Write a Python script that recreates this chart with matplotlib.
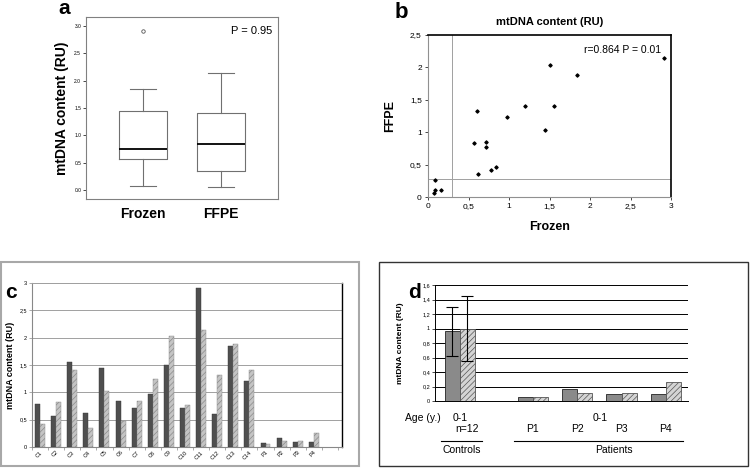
import numpy as np
import matplotlib
matplotlib.use('Agg')
import matplotlib.pyplot as plt
from matplotlib import cbook
from matplotlib.lines import Line2D
from matplotlib.patches import Rectangle

plt.rcParams['font.family'] = ['Liberation Sans', 'DejaVu Sans']
plt.rcParams['hatch.linewidth'] = 0.5

# data
samples = ['C1', 'C2', 'C3', 'C4', 'C5', 'C6', 'C7', 'C8', 'C9', 'C10', 'C11', 'C12', 'C13', 'C14',
           'P1', 'P2', 'P3', 'P4']
frozen = [0.78, 0.57, 1.55, 0.62, 1.44, 0.84, 0.71, 0.97, 1.50, 0.71, 2.91, 0.61, 1.84, 1.20,
          0.07, 0.16, 0.09, 0.09]
ffpe = [0.42, 0.83, 1.41, 0.35, 1.03, 0.47, 0.85, 1.24, 2.03, 0.77, 2.14, 1.32, 1.88, 1.41,
        0.06, 0.11, 0.11, 0.26]

groups_d = ['Controls', 'P1', 'P2', 'P3', 'P4']
frozen_d = [0.96, 0.06, 0.17, 0.10, 0.10]
ffpe_d = [1.00, 0.06, 0.11, 0.11, 0.26]
frozen_d_err = [0.34, 0, 0, 0, 0]
ffpe_d_err = [0.45, 0, 0, 0, 0]

W, H = 750, 468
fig = plt.figure(figsize=(W / 100, H / 100), dpi=100)


def ax_px(l, t, r, b):
    return fig.add_axes([l / W, 1 - b / H, (r - l) / W, (b - t) / H])


def ftxt(x, y, s, **kw):
    fig.text(x / W, 1 - y / H, s, **kw)


def comma(v, pos=None):
    return ('%g' % v).replace('.', ',')


# ---------- panel a : boxplot ----------
axa = ax_px(86, 17, 278, 199)
stats = cbook.boxplot_stats([frozen, ffpe], whis=1.5, labels=['Frozen', 'FFPE'])
for st, d in zip(stats, [frozen, ffpe]):
    s = np.sort(d)
    half = len(s) // 2
    st['q1'] = np.median(s[:half])
    st['q3'] = np.median(s[-half:])
axa.bxp(stats, positions=[1, 2], widths=0.62, capwidths=0.33,
        boxprops=dict(color='#707070', lw=0.8),
        whiskerprops=dict(color='#707070', lw=0.8),
        capprops=dict(color='#707070', lw=0.8),
        medianprops=dict(color='black', lw=1.3),
        flierprops=dict(marker='o', markersize=2.5, markerfacecolor='none',
                        markeredgecolor='#555555', markeredgewidth=0.6))
axa.set_xlim(0.27, 2.73)
axa.set_ylim(-0.16, 3.16)
axa.set_yticks(np.arange(0, 3.01, 0.5))
axa.set_yticklabels(['%.1f' % v for v in np.arange(0, 3.01, 0.5)])
axa.tick_params(axis='y', labelsize=3.5, length=2, width=0.5, pad=1.5)
axa.tick_params(axis='x', labelsize=10, length=0, pad=6)
for lab in axa.get_xticklabels():
    lab.set_fontweight('bold')
for sp in axa.spines.values():
    sp.set_color('#808080')
    sp.set_linewidth(0.8)
axa.set_ylabel('mtDNA content (RU)', fontsize=10, fontweight='bold', labelpad=4)
axa.text(0.97, 0.95, 'P = 0.95', transform=axa.transAxes, ha='right', va='top', fontsize=8)
ftxt(64, 9, 'a', fontsize=15, fontweight='bold', ha='center', va='center')

# ---------- panel b : scatter ----------
axb = ax_px(428, 35, 671, 197)
axb.scatter(frozen, ffpe, marker='D', s=2.5, color='black', zorder=3)
axb.axvline(0.3, color='#a0a0a0', lw=0.7)
axb.axhline(0.28, color='#a0a0a0', lw=0.7)
axb.set_xlim(0, 3)
axb.set_ylim(0, 2.5)
axb.set_xticks(np.arange(0, 3.01, 0.5))
axb.set_yticks(np.arange(0, 2.51, 0.5))
axb.xaxis.set_major_formatter(comma)
axb.yaxis.set_major_formatter(comma)
axb.tick_params(labelsize=6, length=2.5, width=0.5, pad=2)
axb.spines['left'].set_color('#909090')
axb.spines['bottom'].set_color('#909090')
axb.spines['top'].set_color('black')
axb.spines['right'].set_color('black')
axb.spines['top'].set_linewidth(1.2)
axb.spines['right'].set_linewidth(1.2)
axb.set_title('mtDNA content (RU)', fontsize=8, fontweight='bold', pad=7)
axb.set_xlabel('Frozen', fontsize=9, fontweight='bold', labelpad=8)
axb.set_ylabel('FFPE', fontsize=9, fontweight='bold', labelpad=10)
axb.text(0.96, 0.94, 'r=0.864 P = 0.01', transform=axb.transAxes, ha='right', va='top',
         fontsize=7.5)
ftxt(401, 12, 'b', fontsize=16, fontweight='bold', ha='center', va='center')

# ---------- panel c : bars per sample ----------
fig.add_artist(Rectangle((1 / W, 1 - 466 / H), 358 / W, 204 / H, transform=fig.transFigure,
                         fill=False, edgecolor='#a8a8a8', lw=1.5))
axc = ax_px(32, 283, 342, 447)
xc = np.arange(len(samples)) + 0.5
bw = 0.31
axc.bar(xc - bw, frozen, width=bw, align='edge', color='#4f4f4f', edgecolor='#333333',
        lw=0.3, zorder=3)
axc.bar(xc, ffpe, width=bw, align='edge', color='#c4c4c4', edgecolor='#8a8a8a',
        hatch='//////', lw=0.3, zorder=3)
axc.set_xlim(0, len(samples) + 1.25)
axc.set_ylim(0, 3)
axc.set_yticks(np.arange(0, 3.01, 0.5))
axc.yaxis.set_major_formatter(comma)
axc.set_xticks(np.arange(len(samples) + 2))
axc.set_xticklabels([])
axc.set_xticks(xc, minor=True)
axc.set_xticklabels(samples, minor=True, rotation=45, ha='right', rotation_mode='anchor')
axc.tick_params(axis='x', which='minor', length=0, labelsize=4, pad=2)
axc.tick_params(axis='x', which='major', length=2, width=0.5, color='#888888')
axc.tick_params(axis='y', labelsize=4, length=2, width=0.5, color='#888888', pad=1.5)
axc.grid(axis='y', color='#a0a0a0', lw=0.7, zorder=0)
axc.set_axisbelow(True)
axc.spines['left'].set_color('#888888')
axc.spines['bottom'].set_color('#888888')
axc.spines['top'].set_color('#a0a0a0')
axc.spines['top'].set_linewidth(0.7)
axc.spines['right'].set_color('black')
axc.spines['right'].set_linewidth(1.0)
axc.set_ylabel('mtDNA content (RU)', fontsize=6.5, fontweight='bold', labelpad=3)
ftxt(11, 292, 'c', fontsize=15, fontweight='bold', ha='center', va='center')

# ---------- panel d : controls vs patients ----------
fig.add_artist(Rectangle((379 / W, 1 - 466 / H), 369 / W, 204 / H, transform=fig.transFigure,
                         fill=False, edgecolor='#333333', lw=1.0))
axd = ax_px(435, 285, 688, 401)
xd = np.array([0.0] + [1.65 + i for i in range(len(groups_d) - 1)])
bwd = 0.34
axd.bar(xd - bwd, frozen_d, width=bwd, align='edge', color='#8a8a8a', edgecolor='#222222',
        lw=0.6, zorder=3)
axd.bar(xd, ffpe_d, width=bwd, align='edge', color='#d4d4d4', edgecolor='#555555',
        hatch='//////', lw=0.6, zorder=3)
axd.errorbar(xd[:1] - bwd / 2, frozen_d[:1], yerr=frozen_d_err[:1], fmt='none', ecolor='black',
             elinewidth=0.8, capsize=4, capthick=0.8, zorder=4)
axd.errorbar(xd[:1] + bwd / 2, ffpe_d[:1], yerr=ffpe_d_err[:1], fmt='none', ecolor='black',
             elinewidth=0.8, capsize=4, capthick=0.8, zorder=4)
axd.set_xlim(-0.56, 5.15)
axd.set_ylim(0, 1.6)
axd.set_yticks(np.arange(0, 1.61, 0.2))
axd.yaxis.set_major_formatter(comma)
axd.set_xticks([])
axd.tick_params(axis='y', labelsize=4, length=2, width=0.5, pad=1.5)
axd.grid(axis='y', color='black', lw=0.7, zorder=0)
axd.set_axisbelow(True)
axd.spines['right'].set_visible(False)
axd.spines['top'].set_visible(False)
axd.spines['left'].set_linewidth(0.7)
axd.spines['bottom'].set_linewidth(0.7)
axd.set_ylabel('mtDNA content (RU)', fontsize=6, fontweight='bold', labelpad=13)
ftxt(414, 292, 'd', fontsize=15, fontweight='bold', ha='center', va='center')

ftxt(423, 418, 'Age (y.)', fontsize=7.5, ha='center', va='center')
ftxt(460, 418, '0-1', fontsize=7.5, ha='center', va='center')
ftxt(467, 429, 'n=12', fontsize=7.5, ha='center', va='center')
ftxt(600, 418, '0-1', fontsize=7.5, ha='center', va='center')
for g, x in zip(groups_d[1:], xd[1:]):
    xp = 435 + (x + 0.56) / 5.71 * 253
    ftxt(xp, 429, g, fontsize=7.5, ha='center', va='center')
fig.add_artist(Line2D([441 / W, 482 / W], [1 - 441 / H] * 2, color='black', lw=0.8))
fig.add_artist(Line2D([514 / W, 683 / W], [1 - 441 / H] * 2, color='black', lw=0.8))
ftxt(462, 450, 'Controls', fontsize=7.5, ha='center', va='center')
ftxt(614, 450, 'Patients', fontsize=7.5, ha='center', va='center')

fig.savefig('out.png', dpi=100)
